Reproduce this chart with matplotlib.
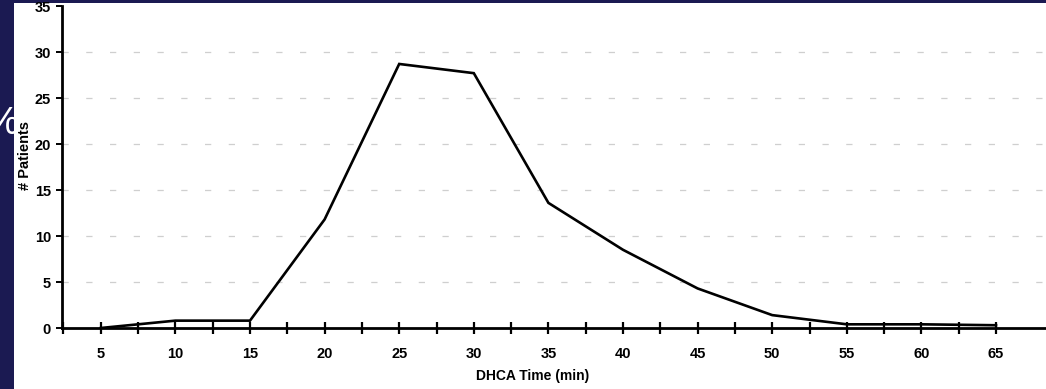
import matplotlib.pyplot as plt
from matplotlib.patches import Rectangle

# DHCA time (min) vs number of patients
dhca_minutes = [5, 10, 15, 20, 25, 30, 35, 40, 45, 50, 55, 60, 65]
patients = [0.0, 0.8, 0.8, 11.8, 28.7, 27.7, 13.6, 8.5, 4.3, 1.4, 0.4, 0.4, 0.3]
x_tick_labels = ["5", "10", "15", "20", "25", "30", "35", "40", "45", "50", "55", "60", "65"]
y_ticks = [0, 5, 10, 15, 20, 25, 30, 35]

NAVY = "#1b1a52"
FONT = ["Liberation Sans", "DejaVu Sans"]


def main() -> None:
    fig = plt.figure(figsize=(10.46, 3.89), dpi=100)
    fig.patch.set_facecolor(NAVY)
    # white scanned page on the slide
    fig.patches.append(Rectangle((14 / 1046, 0), 1, 386 / 389, transform=fig.transFigure,
                                 facecolor="white", edgecolor="none", zorder=-10))
    # slide text hidden behind the page, only its right edge shows
    fig.text(19 / 1046, 1 - 124 / 389, "%", color="white", fontsize=28, family=FONT,
             ha="right", va="center", zorder=-20)

    ax = fig.add_axes([62 / 1046, 61 / 389, 1 - 62 / 1046, 322 / 389])
    ax.set_facecolor("none")

    ax.plot(dhca_minutes, patients, color="black", linewidth=1.9, solid_joinstyle="miter", zorder=3)

    ax.set_xlim(2.4, 68.35)
    ax.set_ylim(0, 35)

    for level in y_ticks[1:-1]:
        ax.axhline(level, color="#cfcfcf", linewidth=0.9, linestyle=(0, (5, 14)), zorder=1)

    ax.set_xticks(dhca_minutes)
    ax.set_xticklabels(x_tick_labels)
    ax.set_xticks([m + 2.5 for m in dhca_minutes[:-1]] + [2.5], minor=True)
    ax.set_yticks(y_ticks)

    for side in ("top", "right"):
        ax.spines[side].set_visible(False)
    for side in ("left", "bottom"):
        ax.spines[side].set_linewidth(2)
        ax.spines[side].set_color("black")

    ax.tick_params(axis="x", which="both", direction="inout", length=9, width=1.6, pad=9,
                   labelsize=10.5)
    ax.tick_params(axis="y", direction="out", length=4, width=1.4, pad=4, labelsize=10.5)
    for label in ax.get_xticklabels() + ax.get_yticklabels():
        label.set_fontweight("bold")
        label.set_family(FONT)

    ax.set_xlabel("DHCA Time (min)", fontsize=10, fontweight="bold", family=FONT)
    ax.xaxis.set_label_coords((533 - 62) / 984, -41 / 322)
    ax.set_ylabel("# Patients", fontsize=10.5, fontweight="bold", family=FONT)
    ax.yaxis.set_label_coords(-30 / 984, (328 - 156) / 322)

    fig.savefig("out.png", dpi=100, facecolor=fig.get_facecolor())


if __name__ == "__main__":
    main()
